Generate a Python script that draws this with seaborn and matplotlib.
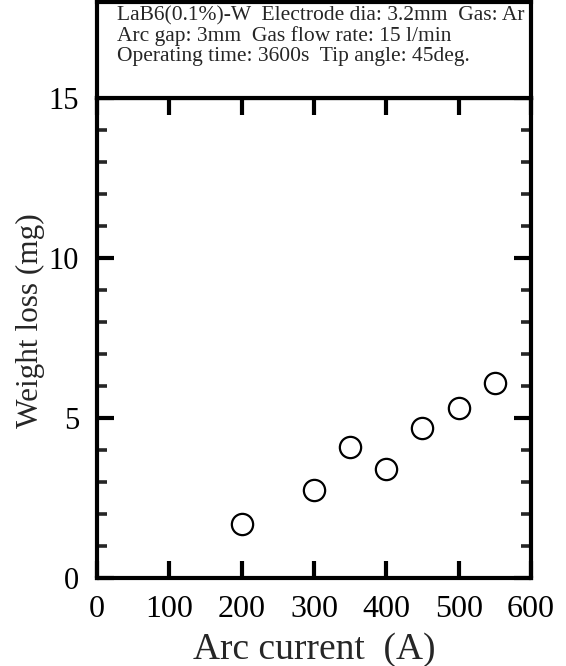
import matplotlib
matplotlib.use("Agg")
import matplotlib.pyplot as plt
import seaborn as sns
import pandas as pd
from matplotlib.ticker import MultipleLocator

# Data
arc_current = [200, 300, 350, 400, 450, 500, 550]
weight_loss = [1.7, 2.75, 4.1, 3.4, 4.7, 5.3, 6.1]
x_ticks = [0, 100, 200, 300, 400, 500, 600]
y_ticks = [0, 5, 10, 15]
info_lines = [
    "LaB6(0.1%)-W  Electrode dia: 3.2mm  Gas: Ar",
    "Arc gap: 3mm  Gas flow rate: 15 l/min",
    "Operating time: 3600s  Tip angle: 45deg.",
]

sns.set_theme(style="ticks")
plt.rcParams['font.family'] = ['Liberation Serif', 'DejaVu Serif']

df = pd.DataFrame({'current': arc_current, 'loss': weight_loss})

fig = plt.figure(figsize=(5.66, 6.66), dpi=100)
ax = fig.add_axes([0.1714, 0.1321, 0.7667, 0.7207])

sns.scatterplot(data=df, x='current', y='loss', ax=ax, marker='o', s=235,
                facecolor='white', edgecolor='black', linewidth=1.6, zorder=3)

ax.set_xlim(0, 600)
ax.set_ylim(0, 15)
ax.set_xticks(x_ticks)
ax.set_yticks(y_ticks)
ax.yaxis.set_minor_locator(MultipleLocator(1))

for sp in ax.spines.values():
    sp.set_linewidth(3)
    sp.set_color('black')

ax.tick_params(axis='both', which='major', direction='in', length=12, width=3,
               top=True, right=True, colors='black')
ax.tick_params(axis='x', which='major', labelsize=23, pad=12)
ax.tick_params(axis='y', which='major', labelsize=22, pad=13)
ax.tick_params(axis='y', which='minor', direction='in', length=7, width=2.6,
               left=True, right=True)

ax.set_xlabel('Arc current  (A)', fontsize=27, labelpad=6)
ax.set_ylabel('Weight loss (mg)', fontsize=22.5)
ax.yaxis.set_label_coords(-0.12, 0.536)

# info box above the axes
box = fig.add_axes([0.1714, 0.853, 0.7667, 0.144])
box.set_xticks([])
box.set_yticks([])
for sp in box.spines.values():
    sp.set_linewidth(3)
    sp.set_color('black')
box.text(0.045, 0.96, "\n".join(info_lines), transform=box.transAxes,
         ha='left', va='top', fontsize=15.5, linespacing=1.08)

fig.savefig("out.png", dpi=100)
